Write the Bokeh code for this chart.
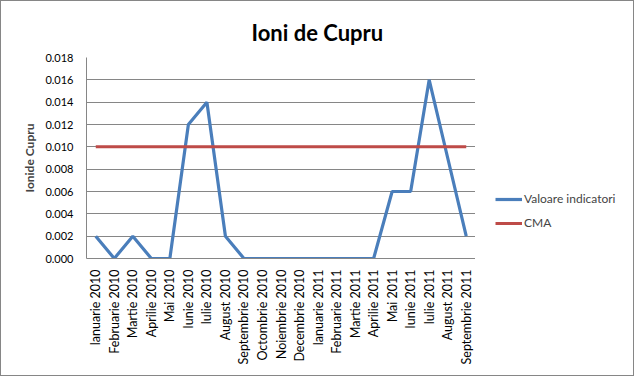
import math
from bokeh.plotting import figure
from bokeh.layouts import row
from bokeh.models import (FactorRange, Range1d, FixedTicker, NumeralTickFormatter,
                          Legend, LegendItem, ColumnDataSource, Title)
from bokeh.embed import file_html
from bokeh.resources import INLINE

months = ["Ianuarie 2010", "Februarie 2010", "Martie 2010", "Aprilie 2010", "Mai 2010",
          "Iunie 2010", "Iulie 2010", "August 2010", "Septembrie 2010", "Octombrie 2010",
          "Noiembrie 2010", "Decembrie 2010", "Ianuarie 2011", "Februarie 2011",
          "Martie 2011", "Aprilie 2011", "Mai 2011", "Iunie 2011", "Iulie 2011",
          "August 2011", "Septembrie 2011"]
valoare = [0.002, 0.0, 0.002, 0.0, 0.0, 0.012, 0.014, 0.002, 0.0, 0.0, 0.0, 0.0,
           0.0, 0.0, 0.0, 0.0, 0.006, 0.006, 0.016, 0.009, 0.002]
cma = [0.010] * len(months)
y_ticks = [0.000, 0.002, 0.004, 0.006, 0.008, 0.010, 0.012, 0.014, 0.016, 0.018]
series_names = ["Valoare indicatori", "CMA"]
series_colors = ["#4A7EBB", "#BE4B48"]
series_widths = [3.2, 3]

FONT = "Lato"

src = ColumnDataSource(dict(m=months, v=valoare, c=cma))
cols = ["v", "c"]

# main chart
p = figure(width=474, height=374, output_backend="svg", toolbar_location=None,
           x_range=FactorRange(*months, range_padding=0),
           y_range=Range1d(0, 0.018),
           min_border_left=85, min_border_right=0, min_border_top=56, min_border_bottom=117)
p.background_fill_color = "white"
p.border_fill_color = "white"
p.outline_line_color = None

p.title = Title(text="Ioni de Cupru", align="left", offset=165,
                text_font=FONT, text_font_size="22px", text_font_style="bold",
                text_color="black", standoff=23)

for c, col, w in zip(cols, series_colors, series_widths):
    p.line("m", c, source=src, line_color=col, line_width=w)

p.xgrid.grid_line_color = None
p.ygrid.grid_line_color = "#868686"
p.ygrid.grid_line_width = 1

p.yaxis.ticker = FixedTicker(ticks=y_ticks)
p.yaxis.formatter = NumeralTickFormatter(format="0.000")
p.yaxis.axis_label = "Ionide Cupru"
p.yaxis.axis_label_text_font = FONT
p.yaxis.axis_label_text_font_style = "bold"
p.yaxis.axis_label_text_font_size = "12px"
p.yaxis.axis_label_standoff = 5
p.yaxis.major_tick_out = 0
p.yaxis.major_tick_in = 0
p.yaxis.minor_tick_line_color = None
p.yaxis.major_label_standoff = 13
p.yaxis.major_label_text_font_size = "11px"

for ax in (p.xaxis, p.yaxis):
    ax.axis_line_color = "#868686"
    ax.major_tick_line_color = None
    ax.major_label_text_font = FONT
    ax.major_label_text_color = "black"

p.xaxis.major_label_text_font_size = "12.5px"
p.xaxis.major_label_orientation = math.pi / 2
p.xaxis.major_tick_out = 0
p.xaxis.major_tick_in = 0
p.xaxis.major_label_standoff = 11

# legend panel (its series lie outside its own visible range, only the legend shows)
lg = figure(width=158, height=374, output_backend="svg", toolbar_location=None,
            min_border=0, x_range=FactorRange(*months), y_range=Range1d(1, 2))
lg.axis.visible = False
lg.grid.visible = False
lg.outline_line_color = None
lg.background_fill_color = "white"
lg.border_fill_color = "white"
items = []
for name, c, col, w in zip(series_names, cols, series_colors, series_widths):
    r = lg.line("m", c, source=src, line_color=col, line_width=w)
    items.append(LegendItem(label=name, renderers=[r]))
legend = Legend(items=items, location=(20, 28), border_line_color=None,
                background_fill_alpha=0,
                label_text_font=FONT, label_text_font_size="12px",
                glyph_width=27, glyph_height=14, label_standoff=2, spacing=9,
                padding=0, margin=0)
lg.add_layout(legend, "center")

layout = row(p, lg)
layout.styles = {"border": "1px solid #868686", "background-color": "white"}

open("out.html", "w").write(file_html(layout, INLINE))
